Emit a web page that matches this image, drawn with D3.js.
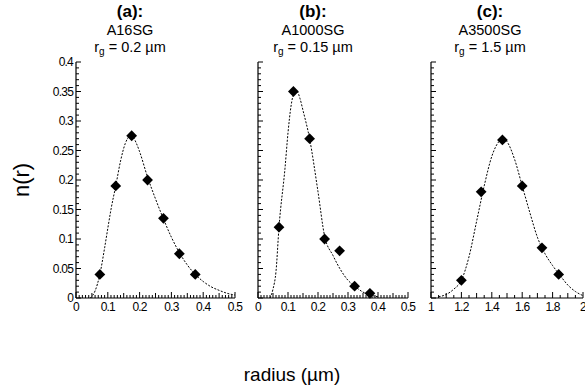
<!DOCTYPE html>
<html>
<head>
<meta charset="utf-8">
<script src="https://cdn.jsdelivr.net/npm/d3@7"></script>
<style>
  body { margin: 0; background: #fff; }
  svg { font-family: "Liberation Sans", Arial, sans-serif; }
</style>
</head>
<body>
<div id="chart"></div>
<script>
// measured points (diamonds)
const ptsRA = [0.075, 0.125, 0.175, 0.225, 0.275, 0.325, 0.375];
const ptsNA = [0.04, 0.19, 0.275, 0.20, 0.135, 0.075, 0.04];
const ptsRB = [0.07, 0.118, 0.172, 0.222, 0.272, 0.322, 0.373];
const ptsNB = [0.12, 0.35, 0.27, 0.10, 0.08, 0.02, 0.008];
const ptsRC = [1.2, 1.33, 1.47, 1.6, 1.73, 1.84];
const ptsNC = [0.03, 0.18, 0.268, 0.19, 0.085, 0.04];

// fitted curves
const fitRA = [0.045, 0.06, 0.075, 0.09, 0.1, 0.11, 0.125, 0.14, 0.155, 0.17, 0.18, 0.19, 0.2, 0.225, 0.25, 0.275, 0.3, 0.325, 0.35, 0.375, 0.4, 0.425, 0.45, 0.475, 0.5];
const fitNA = [0, 0.012, 0.04, 0.085, 0.118, 0.15, 0.19, 0.232, 0.262, 0.274, 0.272, 0.262, 0.248, 0.205, 0.168, 0.134, 0.103, 0.077, 0.056, 0.04, 0.028, 0.019, 0.013, 0.008, 0.005];
const fitRB = [0.04, 0.05, 0.06, 0.07, 0.09, 0.1, 0.11, 0.12, 0.13, 0.14, 0.15, 0.172, 0.2, 0.222, 0.25, 0.275, 0.3, 0.325, 0.35, 0.375, 0.4];
const fitNB = [0, 0.015, 0.045, 0.12, 0.22, 0.28, 0.325, 0.347, 0.35, 0.338, 0.318, 0.27, 0.18, 0.105, 0.072, 0.048, 0.03, 0.019, 0.01, 0.005, 0.002];
const fitRC = [1.05, 1.1, 1.15, 1.2, 1.25, 1.3, 1.35, 1.4, 1.45, 1.48, 1.5, 1.55, 1.6, 1.65, 1.7, 1.75, 1.8, 1.85, 1.9, 1.95, 2.0];
const fitNC = [0.002, 0.006, 0.015, 0.03, 0.07, 0.13, 0.19, 0.24, 0.266, 0.27, 0.265, 0.235, 0.19, 0.145, 0.103, 0.075, 0.055, 0.038, 0.022, 0.011, 0.004];

const titles = ["(a):", "(b):", "(c):"];
const samples = ["A16SG", "A1000SG", "A3500SG"];
const rgValues = ["0.2", "0.15", "1.5"];
const xDomains = [[0, 0.5], [0, 0.5], [1, 2]];
const xTickLabels = [[0, 0.1, 0.2, 0.3, 0.4, 0.5], [0, 0.1, 0.2, 0.3, 0.4, 0.5], [1, 1.2, 1.4, 1.6, 1.8, 2]];
const yTickLabels = [0, 0.05, 0.1, 0.15, 0.2, 0.25, 0.3, 0.35, 0.4];

const W = 585, H = 391;
const svg = d3.select('#chart').append('svg').attr('width', W).attr('height', H);

const panels = [
  { x0: 76, x1: 235, tx: 130, pr: ptsRA, pn: ptsNA, fr: fitRA, fn: fitNA, minor: 0.01 },
  { x0: 258, x1: 408, tx: 313, pr: ptsRB, pn: ptsNB, fr: fitRB, fn: fitNB, minor: 0.01 },
  { x0: 431, x1: 583, tx: 490, pr: ptsRC, pn: ptsNC, fr: fitRC, fn: fitNC, minor: 0.05 }
];

const y = d3.scaleLinear().domain([0, 0.4]).range([298, 62]);
// square turned 45 degrees, like the plotted diamonds
const diamond = d3.symbol().type(d3.symbolSquare).size(58);

panels.forEach((p, i) => {
  const x = d3.scaleLinear().domain(xDomains[i]).range([p.x0, p.x1]);
  const g = svg.append('g');

  // titles
  g.append('text').attr('x', p.tx).attr('y', 17).attr('text-anchor', 'middle')
    .attr('font-size', 17).attr('font-weight', 'bold').text(titles[i]);
  g.append('text').attr('x', p.tx).attr('y', 35).attr('text-anchor', 'middle')
    .attr('font-size', 14.5).text(samples[i]);
  const rg = g.append('text').attr('x', p.tx).attr('y', 52).attr('text-anchor', 'middle')
    .attr('font-size', 14.5);
  rg.append('tspan').text('r');
  rg.append('tspan').attr('font-size', 10).attr('dy', 3).text('g');
  rg.append('tspan').attr('dy', -3).text(' = ' + rgValues[i] + ' \u00b5m');

  // axes lines
  g.append('line').attr('x1', p.x0).attr('x2', p.x0).attr('y1', y(0)).attr('y2', y(0.4))
    .attr('stroke', '#000').attr('stroke-width', 1.2);
  g.append('line').attr('x1', p.x0).attr('x2', p.x1).attr('y1', y(0)).attr('y2', y(0))
    .attr('stroke', '#000').attr('stroke-width', 1.2);

  // y ticks (inward)
  const yMinor = d3.range(0, 0.4001, 0.01);
  g.selectAll('.yt').data(yMinor).join('line')
    .attr('x1', p.x0).attr('x2', (d, k) => p.x0 + (k % 5 === 0 ? 5 : 3))
    .attr('y1', d => y(d)).attr('y2', d => y(d))
    .attr('stroke', '#000').attr('stroke-width', 1);

  if (i === 0) {
    g.selectAll('.yl').data(yTickLabels).join('text')
      .attr('x', p.x0 - 3).attr('y', d => y(d) + 4)
      .attr('text-anchor', 'end').attr('font-size', 12).attr('letter-spacing', -0.8)
      .text(d => d3.format('')(d));
  }

  // x ticks (inward)
  const [a, b] = xDomains[i];
  const n = Math.round((b - a) / p.minor);
  const xMinor = d3.range(0, n + 1).map(k => a + k * p.minor);
  const perMajor = Math.round((xTickLabels[i][1] - xTickLabels[i][0]) / p.minor);
  g.selectAll('.xt').data(xMinor).join('line')
    .attr('x1', d => x(d)).attr('x2', d => x(d))
    .attr('y1', y(0))
    .attr('y2', (d, k) => y(0) - (k % perMajor === 0 ? 6 : (perMajor % 2 === 0 && k % (perMajor / 2) === 0 ? 5 : 3)))
    .attr('stroke', '#000').attr('stroke-width', 1);

  g.selectAll('.xl').data(xTickLabels[i]).join('text')
    .attr('x', d => x(d)).attr('y', y(0) + 13)
    .attr('text-anchor', 'middle').attr('font-size', 12).attr('letter-spacing', -0.8)
    .text(d => d3.format('')(d));

  // fitted curve
  const fit = p.fr.map((r, k) => [r, p.fn[k]]);
  g.append('path').datum(fit)
    .attr('fill', 'none').attr('stroke', '#000').attr('stroke-width', 1)
    .attr('stroke-dasharray', '2,1.5')
    .attr('d', d3.line().x(d => x(d[0])).y(d => y(d[1])).curve(d3.curveMonotoneX));

  // data points
  const pts = p.pr.map((r, k) => [r, p.pn[k]]);
  g.selectAll('.pt').data(pts).join('path')
    .attr('transform', d => `translate(${x(d[0])},${y(d[1])}) rotate(45)`)
    .attr('d', diamond).attr('fill', '#000');
});

svg.append('text').attr('transform', 'translate(29,180) rotate(-90)')
  .attr('text-anchor', 'middle').attr('font-size', 22).text('n(r)');
svg.append('text').attr('x', 292).attr('y', 381)
  .attr('text-anchor', 'middle').attr('font-size', 19).text('radius (\u00b5m)');
</script>
</body>
</html>
